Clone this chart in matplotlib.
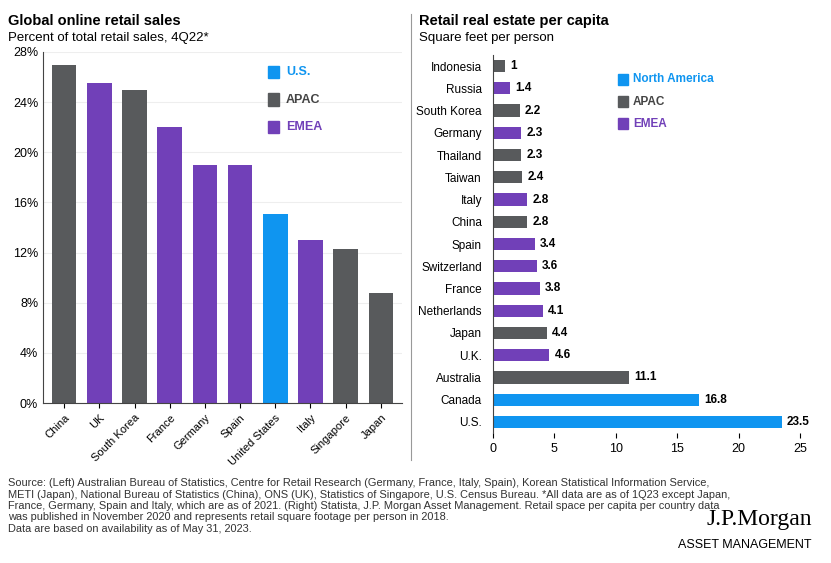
import matplotlib.pyplot as plt
from matplotlib.patches import Rectangle

US = "#0f95f0"
APAC = "#585a5c"
EMEA = "#7140b8"

left_countries = ["China", "UK", "South Korea", "France", "Germany", "Spain",
                  "United States", "Italy", "Singapore", "Japan"]
left_values = [27.0, 25.5, 25.0, 22.0, 19.0, 19.0, 15.1, 13.0, 12.3, 8.8]
left_regions = ["APAC", "EMEA", "APAC", "EMEA", "EMEA", "EMEA", "US", "EMEA", "APAC", "APAC"]

right_countries = ["Indonesia", "Russia", "South Korea", "Germany", "Thailand", "Taiwan",
                   "Italy", "China", "Spain", "Switzerland", "France", "Netherlands",
                   "Japan", "U.K.", "Australia", "Canada", "U.S."]
right_values = [1, 1.4, 2.2, 2.3, 2.3, 2.4, 2.8, 2.8, 3.4, 3.6, 3.8, 4.1, 4.4, 4.6, 11.1, 16.8, 23.5]
right_regions = ["APAC", "EMEA", "APAC", "EMEA", "APAC", "APAC", "EMEA", "APAC", "EMEA",
                 "EMEA", "EMEA", "EMEA", "APAC", "EMEA", "APAC", "US", "US"]

source_lines = [
    "Source: (Left) Australian Bureau of Statistics, Centre for Retail Research (Germany, France, Italy, Spain), Korean Statistical Information Service,",
    "METI (Japan), National Bureau of Statistics (China), ONS (UK), Statistics of Singapore, U.S. Census Bureau. *All data are as of 1Q23 except Japan,",
    "France, Germany, Spain and Italy, which are as of 2021. (Right) Statista, J.P. Morgan Asset Management. Retail space per capita per country data",
    "was published in November 2020 and represents retail square footage per person in 2018.",
    "Data are based on availability as of May 31, 2023.",
]

colors = {"US": US, "APAC": APAC, "EMEA": EMEA}
plt.rcParams["font.family"] = ["Liberation Sans", "DejaVu Sans"]

W, H = 831, 563
fig = plt.figure(figsize=(W / 100, H / 100), dpi=100)

def box(x0, y0, x1, y1):
    return [x0 / W, 1 - y1 / H, (x1 - x0) / W, (y1 - y0) / H]

# left chart
ax = fig.add_axes(box(43, 52, 402, 403))
ax.bar(range(len(left_values)), left_values, width=0.7,
       color=[colors[r] for r in left_regions])
ax.set_ylim(0, 28)
ax.set_xlim(-0.6, 9.6)
ax.set_yticks(range(0, 29, 4))
ax.set_yticklabels([f"{v}%" for v in range(0, 29, 4)], fontsize=9)
ax.set_xticks(range(len(left_countries)))
ax.set_xticklabels(left_countries, rotation=45, ha="right", rotation_mode="anchor", fontsize=8)
ax.tick_params(axis="y", length=0)
ax.grid(axis="y", color="#eeeeee", lw=0.8)
ax.set_axisbelow(True)
for s in ["top", "right"]:
    ax.spines[s].set_visible(False)
for s in ["left", "bottom"]:
    ax.spines[s].set_color("#444444")
for i, (lab, key) in enumerate([("U.S.", "US"), ("APAC", "APAC"), ("EMEA", "EMEA")]):
    y = 26.4 - i * 2.2
    ax.add_patch(Rectangle((5.8, y - 0.5), 0.3, 1.0, color=colors[key], clip_on=False))
    ax.text(6.3, y, lab, color=colors[key] if key != "APAC" else "#444444",
            fontsize=9, fontweight="bold", va="center")

fig.text(8 / W, 1 - 21 / H, "Global online retail sales", fontsize=10.5, fontweight="bold", va="center")
fig.text(8 / W, 1 - 38 / H, "Percent of total retail sales, 4Q22*", fontsize=9.5, va="center")

# divider
fig.add_artist(plt.Line2D([411 / W, 411 / W], [1 - 460 / H, 1 - 14 / H], color="#999999", lw=0.8))

# right chart
ax2 = fig.add_axes(box(493, 55, 800, 433))
y = range(len(right_values))
ax2.barh(y, right_values, height=0.55, color=[colors[r] for r in right_regions])
ax2.set_ylim(len(right_values) - 0.5, -0.5)
ax2.set_xlim(0, 25)
ax2.set_xticks(range(0, 26, 5))
ax2.tick_params(axis="x", labelsize=9)
ax2.set_yticks(list(y))
ax2.set_yticklabels(right_countries, fontsize=8.5)
ax2.tick_params(axis="y", length=0, pad=8)
for s in ["top", "right", "bottom"]:
    ax2.spines[s].set_visible(False)
ax2.spines["left"].set_color("#444444")
for i, v in enumerate(right_values):
    ax2.text(v + 0.4, i, f"{v:g}", va="center", fontsize=8.5, fontweight="bold")
for i, (lab, key) in enumerate([("North America", "US"), ("APAC", "APAC"), ("EMEA", "EMEA")]):
    yy = 0.6 + i * 1.0
    ax2.add_patch(Rectangle((10.2, yy - 0.25), 0.8, 0.5, color=colors[key], clip_on=False))
    ax2.text(11.4, yy, lab, color=colors[key] if key != "APAC" else "#444444",
             fontsize=8.5, fontweight="bold", va="center")

fig.text(419 / W, 1 - 21 / H, "Retail real estate per capita", fontsize=10.5, fontweight="bold", va="center")
fig.text(419 / W, 1 - 38 / H, "Square feet per person", fontsize=9.5, va="center")

# footer, one text per line
for i, line in enumerate(source_lines):
    fig.text(8 / W, 1 - (483 + i * 11.5) / H, line, fontsize=7.9, va="center", color="#333333")
fig.text(812 / W, 1 - 520 / H, "J.P.Morgan", fontsize=17, family="Liberation Serif", ha="right", va="center")
fig.text(812 / W, 1 - 545 / H, "ASSET MANAGEMENT", fontsize=9, ha="right", va="center")

fig.savefig("out.png", dpi=100, facecolor="white")
